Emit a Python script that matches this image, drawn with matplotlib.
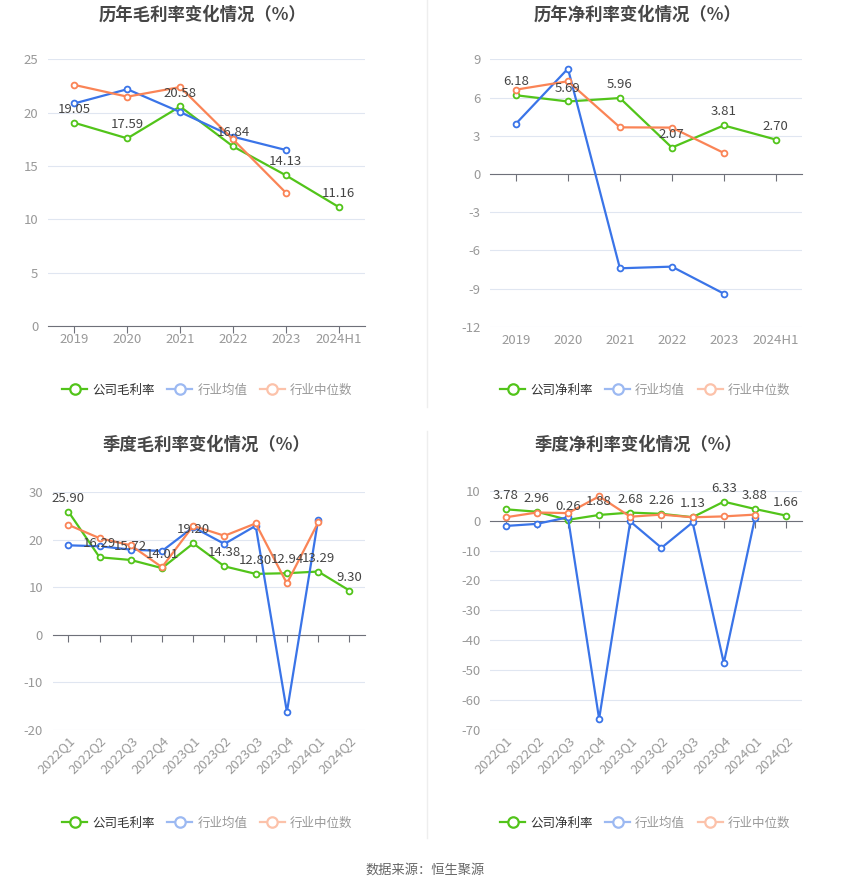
import numpy as np
import matplotlib
matplotlib.use("Agg")
import matplotlib.pyplot as plt
from matplotlib.lines import Line2D

plt.rcParams['font.family'] = ['Noto Sans CJK SC', 'DejaVu Sans']
plt.rcParams['axes.unicode_minus'] = False

# ---- data ----
years = ["2019", "2020", "2021", "2022", "2023", "2024H1"]
quarters = ["2022Q1", "2022Q2", "2022Q3", "2022Q4", "2023Q1",
            "2023Q2", "2023Q3", "2023Q4", "2024Q1", "2024Q2"]
nan = np.nan

gross_company = [19.05, 17.59, 20.58, 16.84, 14.13, 11.16]
gross_mean = [20.87, 22.2, 20.06, 17.75, 16.5, nan]
gross_median = [22.6, 21.5, 22.4, 17.5, 12.5, nan]

net_company = [6.18, 5.69, 5.96, 2.07, 3.81, 2.70]
net_mean = [3.95, 8.27, -7.41, -7.28, -9.40, nan]
net_median = [6.62, 7.28, 3.66, 3.64, 1.65, nan]

q_gross_company = [25.90, 16.29, 15.72, 14.01, 19.20, 14.38, 12.80, 12.94, 13.29, 9.30]
q_gross_mean = [18.8, 18.6, 17.9, 17.6, 22.6, 19.1, 22.9, -16.2, 24.2, nan]
q_gross_median = [23.1, 20.3, 18.8, 14.2, 22.9, 20.8, 23.4, 10.8, 23.6, nan]

q_net_company = [3.78, 2.96, 0.26, 1.88, 2.68, 2.26, 1.13, 6.33, 3.88, 1.66]
q_net_mean = [-1.8, -1.1, 1.1, -66.3, -0.3, -9.1, -0.6, -47.6, 0.8, nan]
q_net_median = [1.1, 2.7, 2.5, 8.1, 1.3, 2.0, 1.1, 1.4, 2.0, nan]

GREEN = "#52C41A"
BLUE = "#3A74E8"
ORANGE = "#FA8456"
BLUE_LIGHT = "#9CB9F2"
ORANGE_LIGHT = "#FCC2AA"
AXIS = "#6E7079"
GRID = "#E0E6F1"
LABEL = "#999999"


def draw(ax, cats, company, mean, median, yticks, rotate=False):
    x = np.arange(len(cats))
    for vals, col in [(company, GREEN), (mean, BLUE), (median, ORANGE)]:
        ax.plot(x, vals, color=col, lw=1.6, marker='o', ms=4.2,
                mfc='white', mew=1.3, zorder=3)
    for xi, v in zip(x, company):
        ax.annotate(f"{v:.2f}", (xi, v), xytext=(0, 5), textcoords='offset points',
                    ha='center', va='bottom', fontsize=9.5, color='#444444', zorder=5)
    ax.set_xlim(-0.5, len(cats) - 0.5)
    ax.set_ylim(yticks[0], yticks[-1])
    ax.set_yticks(yticks)
    ax.grid(axis='y', color=GRID, lw=0.8)
    ax.set_axisbelow(True)
    for s in ['top', 'right', 'left']:
        ax.spines[s].set_visible(False)
    ax.spines['bottom'].set_position(('data', 0))
    ax.spines['bottom'].set_color(AXIS)
    ax.spines['bottom'].set_zorder(2)
    ax.set_xticks(x)
    ax.tick_params(axis='x', length=5, color=AXIS, labelbottom=False)
    ax.tick_params(axis='y', length=0, labelcolor=LABEL, labelsize=9.5, pad=7)
    sec = ax.secondary_xaxis('bottom')
    sec.set_xticks(x, cats)
    sec.spines['bottom'].set_visible(False)
    if rotate:
        sec.tick_params(length=0, labelcolor=LABEL, labelsize=9.5, pad=3)
        plt.setp(sec.get_xticklabels(), rotation=45, ha='right', rotation_mode='anchor')
    else:
        sec.tick_params(length=0, labelcolor=LABEL, labelsize=9.5, pad=5)


def legend(fig, cx, cy, first):
    handles = [
        Line2D([], [], color=GREEN, lw=1.6, marker='o', ms=7.5, mfc='white', mew=1.6),
        Line2D([], [], color=BLUE_LIGHT, lw=1.6, marker='o', ms=7.5, mfc='white', mew=1.6),
        Line2D([], [], color=ORANGE_LIGHT, lw=1.6, marker='o', ms=7.5, mfc='white', mew=1.6),
    ]
    leg = fig.legend(handles, [first, "行业均值", "行业中位数"], loc='center',
                     bbox_to_anchor=(cx, cy), ncol=3, frameon=False, fontsize=9,
                     handlelength=2.0, columnspacing=1.0, handletextpad=0.4)
    for t, c in zip(leg.get_texts(), ['#333333', LABEL, LABEL]):
        t.set_color(c)


fig = plt.figure(figsize=(8.5, 8.91), dpi=100)

ax1 = fig.add_axes([0.0565, 0.6341, 0.373, 0.2993])
draw(ax1, years, gross_company, gross_mean, gross_median, [0, 5, 10, 15, 20, 25])
ax2 = fig.add_axes([0.5765, 0.6333, 0.3667, 0.3001])
draw(ax2, years, net_company, net_mean, net_median, [-12, -9, -6, -3, 0, 3, 6, 9])
ax3 = fig.add_axes([0.062, 0.1807, 0.3674, 0.2671])
draw(ax3, quarters, q_gross_company, q_gross_mean, q_gross_median,
     [-20, -10, 0, 10, 20, 30], rotate=True)
ax4 = fig.add_axes([0.5765, 0.1807, 0.3667, 0.2686])
draw(ax4, quarters, q_net_company, q_net_mean, q_net_median,
     [-70, -60, -50, -40, -30, -20, -10, 0, 10], rotate=True)

title_kw = dict(ha='center', va='center', fontsize=12.5, fontweight='bold', color='#464646')
fig.text(0.238, 0.984, "历年毛利率变化情况（%）", **title_kw)
fig.text(0.750, 0.984, "历年净利率变化情况（%）", **title_kw)
fig.text(0.243, 0.501, "季度毛利率变化情况（%）", **title_kw)
fig.text(0.751, 0.501, "季度净利率变化情况（%）", **title_kw)

legend(fig, 0.244, 0.5623, "公司毛利率")
legend(fig, 0.759, 0.5623, "公司净利率")
legend(fig, 0.244, 0.0763, "公司毛利率")
legend(fig, 0.759, 0.0763, "公司净利率")

# faint dividers between the two columns
fig.add_artist(Line2D([0.5024, 0.5024], [1 - 407 / 891, 1.0], transform=fig.transFigure,
                      color='#EEEEEE', lw=1))
fig.add_artist(Line2D([0.5024, 0.5024], [1 - 838 / 891, 1 - 431 / 891], transform=fig.transFigure,
                      color='#EEEEEE', lw=1))

fig.text(0.5, 1 - 870 / 891, "数据来源：恒生聚源", ha='center', va='center',
         fontsize=9.5, color='#666666')

fig.savefig("out.png", dpi=100)
